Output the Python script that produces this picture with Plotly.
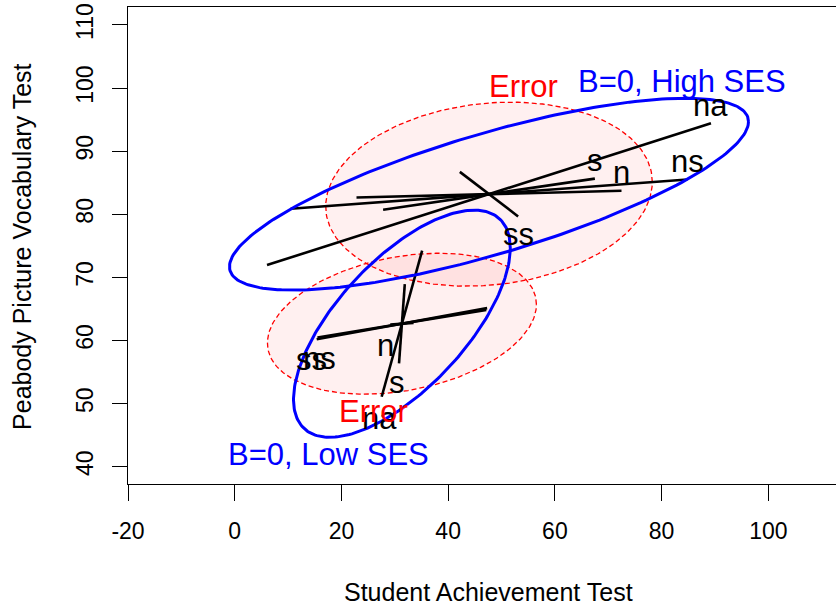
import numpy as np
import plotly.graph_objects as go

FONT = "Liberation Sans, Arial, sans-serif"

# Rohwer data, separate MLM fits for the High and Low SES groups:
# SAT (x) and PPVT (y) responses, predictors n, s, ns, na, ss.
predictors = ["n", "s", "ns", "na", "ss"]

# group means (SAT, PPVT)
hi_mean = [47.65, 83.19]
lo_mean = [31.33, 62.66]

# labelled end of each 1-df hypothesis ellipse (a line through the mean)
hi_end_sat = [72.48, 67.49, 84.82, 89.25, 53.11]
hi_end_ppvt = [83.72, 85.65, 85.51, 94.42, 79.66]
lo_end_sat = [29.15, 30.79, 15.51, 27.54, 15.36]
lo_end_ppvt = [62.53, 56.38, 60.47, 51.09, 60.19]

# ellipse shape matrices: [var SAT, cov, var PPVT]
hi_error = [936.6, 59.4, 212.6]
lo_error = [635.4, 77.2, 124.8]
hi_b0 = [2365.0, 558.8, 231.0]
lo_b0 = [412.7, 243.5, 324.1]

x_ticks = [-20, 0, 20, 40, 60, 80, 100]
x_tick_text = ["-20", "0", "20", "40", "60", "80", "100"]
y_ticks = [40, 50, 60, 70, 80, 90, 100, 110]


def ellipse(center, m, n=240):
    S = np.array([[m[0], m[1]], [m[1], m[2]]])
    L = np.linalg.cholesky(S)
    t = np.linspace(0, 2 * np.pi, n)
    pts = L @ np.vstack([np.cos(t), np.sin(t)])
    return center[0] + pts[0], center[1] + pts[1]


fig = go.Figure()

# error ellipses: light red fill, dashed red outline
for mean, E in [(hi_mean, hi_error), (lo_mean, lo_error)]:
    ex, ey = ellipse(mean, E)
    fig.add_trace(go.Scatter(
        x=ex, y=ey, mode="lines", fill="toself",
        fillcolor="rgba(255,0,0,0.06)",
        line=dict(color="#ff0000", width=1.3, dash="5px,3px"),
        hoverinfo="skip", showlegend=False))

# 1-df hypothesis lines through each group mean
for mean, xs, ys in [(hi_mean, hi_end_sat, hi_end_ppvt),
                     (lo_mean, lo_end_sat, lo_end_ppvt)]:
    for p, ex, ey in zip(predictors, xs, ys):
        fig.add_trace(go.Scatter(
            x=[ex, 2 * mean[0] - ex], y=[ey, 2 * mean[1] - ey],
            mode="lines", line=dict(color="black", width=2.6),
            hoverinfo="skip", showlegend=False))

# overall B=0 hypothesis ellipses
for mean, H in [(hi_mean, hi_b0), (lo_mean, lo_b0)]:
    bx, by = ellipse(mean, H)
    fig.add_trace(go.Scatter(
        x=bx, y=by, mode="lines", line=dict(color="#0000ff", width=3),
        hoverinfo="skip", showlegend=False))

annotations = []
LABEL_SIZE = 31

# predictor labels next to the labelled line ends
hi_side = {"n": 1, "s": 1, "ns": 1, "na": 1, "ss": -1}
for p, ex, ey in zip(predictors, hi_end_sat, hi_end_ppvt):
    annotations.append(dict(
        x=ex, y=ey, xref="x", yref="y", text=p, showarrow=False,
        font=dict(family=FONT, size=LABEL_SIZE, color="black"),
        xanchor="center", yanchor="middle", yshift=18 * hi_side[p]))

lo_shift = {"n": (-5, -21), "s": (-2, -19), "ns": (2, -21),
            "na": (-2, -22), "ss": (-5, -20)}
for p, ex, ey in zip(predictors, lo_end_sat, lo_end_ppvt):
    dx, dy = lo_shift[p]
    annotations.append(dict(
        x=ex, y=ey, xref="x", yref="y", text=p, showarrow=False,
        font=dict(family=FONT, size=LABEL_SIZE, color="black"),
        xanchor="center", yanchor="middle", xshift=dx, yshift=dy))

# ellipse captions
for txt, x, y, col in [("Error", 54.2, 100.3, "#ff0000"),
                       ("B=0, High SES", 83.8, 101.1, "#0000ff"),
                       ("Error", 26.06, 48.8, "#ff0000"),
                       ("B=0, Low SES", 17.54, 41.9, "#0000ff")]:
    annotations.append(dict(
        x=x, y=y, xref="x", yref="y", text=txt, showarrow=False,
        font=dict(family=FONT, size=LABEL_SIZE, color=col),
        xanchor="center", yanchor="middle"))

# axis titles
annotations.append(dict(
    x=0.5085, y=-0.2264, xref="paper", yref="paper",
    text="Student Achievement Test", showarrow=False,
    font=dict(family=FONT, size=25, color="black"),
    xanchor="center", yanchor="middle"))
annotations.append(dict(
    x=-0.1497, y=0.497, xref="paper", yref="paper",
    text="Peabody Picture Vocabulary Test", showarrow=False, textangle=-90,
    font=dict(family=FONT, size=25, color="black"),
    xanchor="center", yanchor="middle"))

fig.update_layout(
    width=836, height=606,
    margin=dict(l=128, r=0, t=7, b=122),
    paper_bgcolor="white", plot_bgcolor="white",
    font=dict(family=FONT, color="black"),
    annotations=annotations,
    showlegend=False,
    xaxis=dict(range=[-20, 112.68], tickvals=x_ticks, ticktext=x_tick_text,
               showgrid=False, zeroline=False, showline=True,
               linecolor="black", linewidth=1, mirror=True,
               ticks="outside", ticklen=16, tickcolor="black", tickwidth=1,
               ticklabelstandoff=10,
               tickfont=dict(family=FONT, size=23, color="black")),
    yaxis=dict(range=[37.26, 112.85], tickvals=y_ticks, showgrid=False,
               zeroline=False, showline=True, linecolor="black",
               linewidth=1, ticks="outside", ticklen=15,
               tickcolor="black", tickwidth=1, tickangle=-90,
               ticklabelstandoff=10,
               tickfont=dict(family=FONT, size=23, color="black")),
)

fig.write_html("out.html")
